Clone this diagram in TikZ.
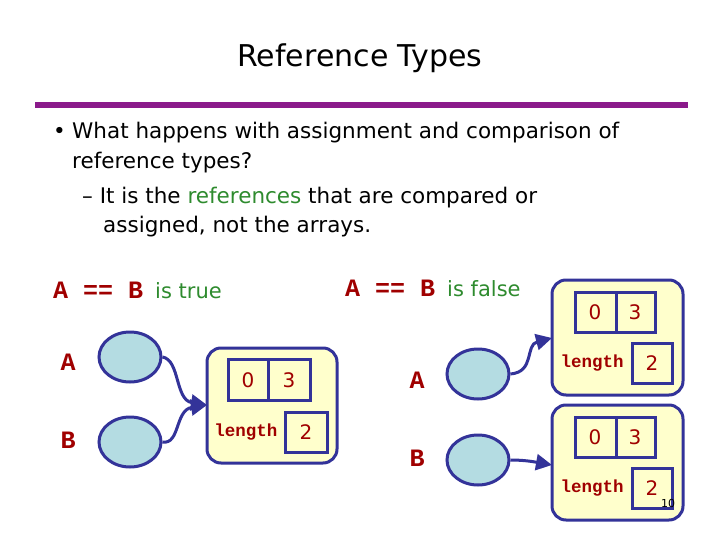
\documentclass[tikz,border=0pt]{standalone}
\usepackage{fontspec}
\usetikzlibrary{shapes.geometric,arrows.meta}
\setmainfont{DejaVu Sans}
\newfontfamily\cmono{Liberation Mono}
\begin{document}
\begin{tikzpicture}[x=1pt,y=-1pt,
  navy/.style={draw=arrblue,line width=3pt},
  ell/.style={navy,fill=ellfill,ellipse,minimum width=62pt,minimum height=50pt,inner sep=0pt},
  arrbox/.style={navy,fill=boxfill,rounded corners=14pt},
  cell/.style={navy,fill=boxfill},
  code/.style={text=dred,font=\cmono\bfseries\fontsize{25}{27}\selectfont},
  smallcode/.style={text=dred,font=\cmono\bfseries\fontsize{17.5}{19}\selectfont},
  num/.style={text=dred,font=\fontsize{20}{22}\selectfont},
  body/.style={anchor=west,font=\fontsize{21.5}{24}\selectfont,inner sep=0pt},
  conn/.style={draw=arrblue,line width=3pt,-{Triangle[length=16pt,width=16pt]}}]
\definecolor{arrblue}{HTML}{333399}
\definecolor{ellfill}{HTML}{B4DCE2}
\definecolor{boxfill}{HTML}{FFFFCC}
\definecolor{dred}{HTML}{A00000}
\definecolor{grn}{HTML}{2E8B2E}
\definecolor{purp}{HTML}{8B1A8B}
\useasboundingbox[fill=white] (0,0) rectangle (720,540);
\node (title) at (360,58) {\fontsize{30}{34}\selectfont Reference Types};
\draw[purp,line width=6pt] (35,105) -- (688,105);
\node[body] (b0) at (53,133) {•};
\node[body] (l1) at (72,133) {What happens with assignment and comparison of};
\node[body] (l2) at (72,163) {reference types?};
\node[body] (l3) at (82,198) {– It is the \textcolor{grn}{references} that are compared or};
\node[body] (l4) at (103,227) {assigned, not the arrays.};
% left
\node[anchor=west,inner sep=0pt] (t1) at (53,290) {\textcolor{dred}{\cmono\bfseries\fontsize{25}{27}\selectfont A == B}\hspace{12pt}\textcolor{grn}{\fontsize{21}{24}\selectfont is true}};
\node[code] (la) at (68,362) {A};
\node[code] (lb) at (68,440) {B};
\node[ell] (ea) at (130,357) {};
\node[ell] (eb) at (130,442) {};
\draw[arrbox] (207,348) rectangle (337,463);
\coordinate (ltip) at (207,405);
\draw[cell] (228,359) rectangle (310,400);
\draw[navy] (268,359) -- (268,400);
\draw[cell] (285,412) rectangle (327,452);
\node[num] (c0) at (248,380) {0};
\node[num] (c3) at (289,380) {3};
\node[smallcode] (len1) at (246,432) {length};
\node[num] (c2) at (306,432) {2};
\draw[conn] (ea.east) .. controls (180,360) and (175,400) .. (ltip);
\draw[conn] (eb.east) .. controls (180,445) and (175,410) .. (ltip);
% right
\node[anchor=west,inner sep=0pt] (t2) at (345,288) {\textcolor{dred}{\cmono\bfseries\fontsize{25}{27}\selectfont A == B}\hspace{12pt}\textcolor{grn}{\fontsize{21}{24}\selectfont is false}};
\node[code] (ra) at (417,380) {A};
\node[code] (rb) at (417,458) {B};
\node[ell] (fa) at (478,374) {};
\node[ell] (fb) at (478,460) {};
\foreach \yo/\nm in {0/p,125/q}{
  \draw[arrbox] (552,280+\yo) rectangle (683,395+\yo);
  \draw[cell] (575,292+\yo) rectangle (655,332+\yo);
  \draw[navy] (616,292+\yo) -- (616,332+\yo);
  \draw[cell] (632,343+\yo) rectangle (672,383+\yo);
  \node[num] (\nm0) at (595,312+\yo) {0};
  \node[num] (\nm3) at (635,312+\yo) {3};
  \node[smallcode] (\nm l) at (592,363+\yo) {length};
  \node[num] (\nm2) at (652,363+\yo) {2};
}
\coordinate (ptip) at (552,338);
\coordinate (qtip) at (552,465);
\draw[conn] (fa.east) .. controls (535,372) and (525,345) .. (ptip);
\draw[conn] (fb.east) .. controls (525,460) and (535,462) .. (qtip);
\node (pg) at (668,503) {\fontsize{11}{12}\selectfont 10};
\end{tikzpicture}
\end{document}
